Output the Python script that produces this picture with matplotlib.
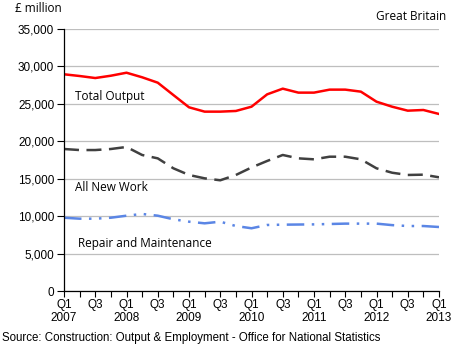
import matplotlib
matplotlib.use("Agg")
import matplotlib.pyplot as plt
import numpy as np

quarters = ["Q1\n2007", "Q2", "Q3", "Q4", "Q1\n2008", "Q2", "Q3", "Q4",
            "Q1\n2009", "Q2", "Q3", "Q4", "Q1\n2010", "Q2", "Q3", "Q4",
            "Q1\n2011", "Q2", "Q3", "Q4", "Q1\n2012", "Q2", "Q3", "Q4", "Q1\n2013"]

total_output = [28950, 28720, 28450, 28760, 29160, 28550, 27830, 26180,
                24540, 23960, 23960, 24050, 24620, 26270, 27030, 26500,
                26500, 26900, 26900, 26630, 25290, 24620, 24090, 24180, 23650]
all_new_work = [18970, 18830, 18830, 18970, 19240, 18170, 17720, 16390,
                15500, 15050, 14790, 15500, 16500, 17370, 18170, 17720,
                17590, 17940, 17940, 17590, 16390, 15800, 15500, 15540, 15190]
repair_maint = [9790, 9660, 9660, 9790, 10060, 10290, 10060, 9580,
                9260, 9040, 9260, 8680, 8380, 8820, 8860, 8880,
                8900, 8950, 9000, 9000, 9000, 8800, 8680, 8680, 8550]

yticks = [0, 5000, 10000, 15000, 20000, 25000, 30000, 35000]

fig = plt.figure(figsize=(4.54, 3.46), dpi=100)
ax = fig.add_axes([64/454, 1-291/346, (439-64)/454, (291-29)/346])

x = np.arange(len(quarters))
ax.plot(x, total_output, color="#FF0000", lw=1.8, solid_joinstyle="round")
ax.plot(x, all_new_work, color="#404040", lw=1.8, dashes=(6, 3))
ax.plot(x, repair_maint, color="#5B86E5", lw=1.8, dashes=(7, 3, 1, 3, 1, 3))

ax.set_xlim(0, len(quarters)-1)
ax.set_ylim(0, 35000)
ax.set_yticks(yticks)
ax.set_yticklabels([f"{v:,}" for v in yticks])
ax.set_xticks(x, minor=True)
ax.set_xticks(x[::2])
ax.set_xticklabels(quarters[::2])
ax.tick_params(axis="x", which="both", direction="out", length=4, width=0.8, labelsize=8.5, pad=2)
ax.tick_params(axis="y", direction="out", length=5, width=0.8, labelsize=8.5, pad=2)
for lab in ax.get_xticklabels() + ax.get_yticklabels():
    lab.set_family("Liberation Sans")
for lab in ax.get_xticklabels():
    lab.set_linespacing(1.05)

ax.grid(axis="y", color="#BEBEBE", lw=0.9)
ax.set_axisbelow(True)
for s in ["top", "right"]:
    ax.spines[s].set_visible(False)
for s in ["left", "bottom"]:
    ax.spines[s].set_color("black")
    ax.spines[s].set_linewidth(0.9)

lab_font = dict(family="Open Sans", fontsize=8.5, color="black")
ax.text(0.7, 26000, "Total Output", ha="left", va="center", **lab_font)
ax.text(0.7, 13800, "All New Work", ha="left", va="center", **lab_font)
ax.text(0.9, 6300, "Repair and Maintenance", ha="left", va="center", **lab_font)

fig.text(15/454, 1-9/346, "£ million", ha="left", va="center", **lab_font)
fig.text(446/454, 1-16/346, "Great Britain", ha="right", va="center", **lab_font)
fig.text(2/454, 1-338/346, "Source: Construction: Output & Employment - Office for National Statistics",
         ha="left", va="center", family="Liberation Sans", fontsize=8.3)

fig.savefig("out.png", dpi=100)
